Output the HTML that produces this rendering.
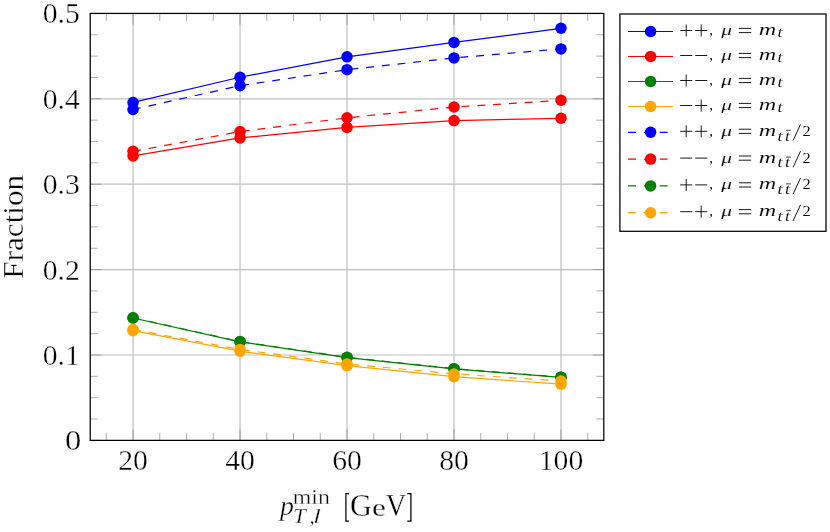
<!DOCTYPE html>
<html><head><meta charset="utf-8"><title>plot</title>
<style>
html,body{margin:0;padding:0;background:#fff;}
body{width:830px;height:532px;overflow:hidden;}
svg{display:block;will-change:transform;}
text{font-family:"Liberation Serif",serif;fill:#000;font-kerning:none;stroke:#fff;stroke-width:0.35px;}
.i{font-style:italic;}
.lg text{stroke-width:0.08px;}
</style></head><body>
<svg width="830" height="532" viewBox="0 0 830 532">
<rect x="0" y="0" width="830" height="532" fill="#fff"/>
<g stroke="#bfbfbf" stroke-width="1.18" fill="none">
<line x1="133.05" y1="13.43" x2="133.05" y2="440.38"/>
<line x1="240.04" y1="13.43" x2="240.04" y2="440.38"/>
<line x1="347.02" y1="13.43" x2="347.02" y2="440.38"/>
<line x1="454.01" y1="13.43" x2="454.01" y2="440.38"/>
<line x1="561.00" y1="13.43" x2="561.00" y2="440.38"/>
<line x1="90.25" y1="354.99" x2="603.80" y2="354.99"/>
<line x1="90.25" y1="269.60" x2="603.80" y2="269.60"/>
<line x1="90.25" y1="184.21" x2="603.80" y2="184.21"/>
<line x1="90.25" y1="98.82" x2="603.80" y2="98.82"/>
</g>
<g stroke="#808080" stroke-width="0.65" fill="none">
<line x1="106.30" y1="440.38" x2="106.30" y2="432.93"/><line x1="106.30" y1="13.43" x2="106.30" y2="20.88"/>
<line x1="133.05" y1="440.38" x2="133.05" y2="429.18"/><line x1="133.05" y1="13.43" x2="133.05" y2="24.63"/>
<line x1="159.79" y1="440.38" x2="159.79" y2="432.93"/><line x1="159.79" y1="13.43" x2="159.79" y2="20.88"/>
<line x1="186.54" y1="440.38" x2="186.54" y2="432.93"/><line x1="186.54" y1="13.43" x2="186.54" y2="20.88"/>
<line x1="213.29" y1="440.38" x2="213.29" y2="432.93"/><line x1="213.29" y1="13.43" x2="213.29" y2="20.88"/>
<line x1="240.04" y1="440.38" x2="240.04" y2="429.18"/><line x1="240.04" y1="13.43" x2="240.04" y2="24.63"/>
<line x1="266.78" y1="440.38" x2="266.78" y2="432.93"/><line x1="266.78" y1="13.43" x2="266.78" y2="20.88"/>
<line x1="293.53" y1="440.38" x2="293.53" y2="432.93"/><line x1="293.53" y1="13.43" x2="293.53" y2="20.88"/>
<line x1="320.28" y1="440.38" x2="320.28" y2="432.93"/><line x1="320.28" y1="13.43" x2="320.28" y2="20.88"/>
<line x1="347.02" y1="440.38" x2="347.02" y2="429.18"/><line x1="347.02" y1="13.43" x2="347.02" y2="24.63"/>
<line x1="373.77" y1="440.38" x2="373.77" y2="432.93"/><line x1="373.77" y1="13.43" x2="373.77" y2="20.88"/>
<line x1="400.52" y1="440.38" x2="400.52" y2="432.93"/><line x1="400.52" y1="13.43" x2="400.52" y2="20.88"/>
<line x1="427.27" y1="440.38" x2="427.27" y2="432.93"/><line x1="427.27" y1="13.43" x2="427.27" y2="20.88"/>
<line x1="454.01" y1="440.38" x2="454.01" y2="429.18"/><line x1="454.01" y1="13.43" x2="454.01" y2="24.63"/>
<line x1="480.76" y1="440.38" x2="480.76" y2="432.93"/><line x1="480.76" y1="13.43" x2="480.76" y2="20.88"/>
<line x1="507.51" y1="440.38" x2="507.51" y2="432.93"/><line x1="507.51" y1="13.43" x2="507.51" y2="20.88"/>
<line x1="534.26" y1="440.38" x2="534.26" y2="432.93"/><line x1="534.26" y1="13.43" x2="534.26" y2="20.88"/>
<line x1="561.00" y1="440.38" x2="561.00" y2="429.18"/><line x1="561.00" y1="13.43" x2="561.00" y2="24.63"/>
<line x1="587.75" y1="440.38" x2="587.75" y2="432.93"/><line x1="587.75" y1="13.43" x2="587.75" y2="20.88"/>
<line x1="90.25" y1="440.38" x2="101.45" y2="440.38"/><line x1="603.80" y1="440.38" x2="592.60" y2="440.38"/>
<line x1="90.25" y1="419.03" x2="97.70" y2="419.03"/><line x1="603.80" y1="419.03" x2="596.35" y2="419.03"/>
<line x1="90.25" y1="397.69" x2="97.70" y2="397.69"/><line x1="603.80" y1="397.69" x2="596.35" y2="397.69"/>
<line x1="90.25" y1="376.34" x2="97.70" y2="376.34"/><line x1="603.80" y1="376.34" x2="596.35" y2="376.34"/>
<line x1="90.25" y1="354.99" x2="101.45" y2="354.99"/><line x1="603.80" y1="354.99" x2="592.60" y2="354.99"/>
<line x1="90.25" y1="333.64" x2="97.70" y2="333.64"/><line x1="603.80" y1="333.64" x2="596.35" y2="333.64"/>
<line x1="90.25" y1="312.29" x2="97.70" y2="312.29"/><line x1="603.80" y1="312.29" x2="596.35" y2="312.29"/>
<line x1="90.25" y1="290.95" x2="97.70" y2="290.95"/><line x1="603.80" y1="290.95" x2="596.35" y2="290.95"/>
<line x1="90.25" y1="269.60" x2="101.45" y2="269.60"/><line x1="603.80" y1="269.60" x2="592.60" y2="269.60"/>
<line x1="90.25" y1="248.25" x2="97.70" y2="248.25"/><line x1="603.80" y1="248.25" x2="596.35" y2="248.25"/>
<line x1="90.25" y1="226.91" x2="97.70" y2="226.91"/><line x1="603.80" y1="226.91" x2="596.35" y2="226.91"/>
<line x1="90.25" y1="205.56" x2="97.70" y2="205.56"/><line x1="603.80" y1="205.56" x2="596.35" y2="205.56"/>
<line x1="90.25" y1="184.21" x2="101.45" y2="184.21"/><line x1="603.80" y1="184.21" x2="592.60" y2="184.21"/>
<line x1="90.25" y1="162.86" x2="97.70" y2="162.86"/><line x1="603.80" y1="162.86" x2="596.35" y2="162.86"/>
<line x1="90.25" y1="141.51" x2="97.70" y2="141.51"/><line x1="603.80" y1="141.51" x2="596.35" y2="141.51"/>
<line x1="90.25" y1="120.17" x2="97.70" y2="120.17"/><line x1="603.80" y1="120.17" x2="596.35" y2="120.17"/>
<line x1="90.25" y1="98.82" x2="101.45" y2="98.82"/><line x1="603.80" y1="98.82" x2="592.60" y2="98.82"/>
<line x1="90.25" y1="77.47" x2="97.70" y2="77.47"/><line x1="603.80" y1="77.47" x2="596.35" y2="77.47"/>
<line x1="90.25" y1="56.12" x2="97.70" y2="56.12"/><line x1="603.80" y1="56.12" x2="596.35" y2="56.12"/>
<line x1="90.25" y1="34.78" x2="97.70" y2="34.78"/><line x1="603.80" y1="34.78" x2="596.35" y2="34.78"/>
<line x1="90.25" y1="13.43" x2="101.45" y2="13.43"/><line x1="603.80" y1="13.43" x2="592.60" y2="13.43"/>
</g>
<rect x="90.25" y="13.43" width="513.55" height="426.95" fill="none" stroke="#000" stroke-width="1.25"/>
<polyline points="133.05,102.45 240.04,77.25 347.02,56.85 454.01,42.40 561.00,28.30" fill="none" stroke="#0000ff" stroke-width="1.20"/>
<g fill="#0000ff"><circle cx="133.05" cy="102.45" r="5.75"/><circle cx="240.04" cy="77.25" r="5.75"/><circle cx="347.02" cy="56.85" r="5.75"/><circle cx="454.01" cy="42.40" r="5.75"/><circle cx="561.00" cy="28.30" r="5.75"/></g>
<polyline points="133.05,155.90 240.04,137.90 347.02,127.40 454.01,120.60 561.00,118.30" fill="none" stroke="#ff0000" stroke-width="1.20"/>
<g fill="#ff0000"><circle cx="133.05" cy="155.90" r="5.75"/><circle cx="240.04" cy="137.90" r="5.75"/><circle cx="347.02" cy="127.40" r="5.75"/><circle cx="454.01" cy="120.60" r="5.75"/><circle cx="561.00" cy="118.30" r="5.75"/></g>
<polyline points="133.05,318.00 240.04,341.80 347.02,357.60 454.01,368.90 561.00,377.35" fill="none" stroke="#008000" stroke-width="1.20"/>
<g fill="#008000"><circle cx="133.05" cy="318.00" r="5.75"/><circle cx="240.04" cy="341.80" r="5.75"/><circle cx="347.02" cy="357.60" r="5.75"/><circle cx="454.01" cy="368.90" r="5.75"/><circle cx="561.00" cy="377.35" r="5.75"/></g>
<polyline points="133.05,330.70 240.04,351.20 347.02,365.70 454.01,376.70 561.00,384.20" fill="none" stroke="#ffa500" stroke-width="1.20"/>
<g fill="#ffa500"><circle cx="133.05" cy="330.70" r="5.75"/><circle cx="240.04" cy="351.20" r="5.75"/><circle cx="347.02" cy="365.70" r="5.75"/><circle cx="454.01" cy="376.70" r="5.75"/><circle cx="561.00" cy="384.20" r="5.75"/></g>
<polyline points="133.05,109.50 240.04,85.65 347.02,69.65 454.01,57.90 561.00,48.90" fill="none" stroke="#0000ff" stroke-width="1.20" stroke-dasharray="7.9 7.9"/>
<g fill="#0000ff"><circle cx="133.05" cy="109.50" r="5.75"/><circle cx="240.04" cy="85.65" r="5.75"/><circle cx="347.02" cy="69.65" r="5.75"/><circle cx="454.01" cy="57.90" r="5.75"/><circle cx="561.00" cy="48.90" r="5.75"/></g>
<polyline points="133.05,151.35 240.04,131.55 347.02,117.80 454.01,107.00 561.00,100.30" fill="none" stroke="#ff0000" stroke-width="1.20" stroke-dasharray="7.9 7.9"/>
<g fill="#ff0000"><circle cx="133.05" cy="151.35" r="5.75"/><circle cx="240.04" cy="131.55" r="5.75"/><circle cx="347.02" cy="117.80" r="5.75"/><circle cx="454.01" cy="107.00" r="5.75"/><circle cx="561.00" cy="100.30" r="5.75"/></g>
<polyline points="133.05,317.80 240.04,341.60 347.02,357.30 454.01,368.70 561.00,377.15" fill="none" stroke="#008000" stroke-width="1.20" stroke-dasharray="7.9 7.9"/>
<g fill="#008000"><circle cx="133.05" cy="317.80" r="5.75"/><circle cx="240.04" cy="341.60" r="5.75"/><circle cx="347.02" cy="357.30" r="5.75"/><circle cx="454.01" cy="368.70" r="5.75"/><circle cx="561.00" cy="377.15" r="5.75"/></g>
<polyline points="133.05,329.50 240.04,349.40 347.02,363.90 454.01,373.95 561.00,380.95" fill="none" stroke="#ffa500" stroke-width="1.20" stroke-dasharray="7.9 7.9"/>
<g fill="#ffa500"><circle cx="133.05" cy="329.50" r="5.75"/><circle cx="240.04" cy="349.40" r="5.75"/><circle cx="347.02" cy="363.90" r="5.75"/><circle cx="454.01" cy="373.95" r="5.75"/><circle cx="561.00" cy="380.95" r="5.75"/></g>
<rect x="619.90" y="14.00" width="206.10" height="217.30" fill="#fff" stroke="#000" stroke-width="1.25"/>
<line x1="628.1" y1="31.50" x2="673.0" y2="31.50" stroke="#0000ff" stroke-width="1.20"/><circle cx="650.6" cy="31.50" r="5.75" fill="#0000ff"/>
<g class="lg"><g stroke="#000" stroke-width="0.90" fill="none"><line x1="680.15" y1="30.50" x2="692.25" y2="30.50"/><line x1="686.20" y1="24.50" x2="686.20" y2="36.50"/><line x1="695.15" y1="30.50" x2="707.25" y2="30.50"/><line x1="701.20" y1="24.50" x2="701.20" y2="36.50"/><line x1="738.8" y1="28.40" x2="751.2" y2="28.40"/><line x1="738.8" y1="32.60" x2="751.2" y2="32.60"/></g><text x="709.2" y="35.00" font-size="15">,</text><text class="i" x="721.2" y="35.00" font-size="14" textLength="10.8" lengthAdjust="spacingAndGlyphs">μ</text><text class="i" x="758.7" y="35.00" font-size="16.4" textLength="17.5" lengthAdjust="spacingAndGlyphs">m</text><text class="i" x="777.6" y="37.10" font-size="15.5" textLength="5" lengthAdjust="spacingAndGlyphs">t</text>
</g>
<line x1="628.1" y1="56.50" x2="673.0" y2="56.50" stroke="#ff0000" stroke-width="1.20"/><circle cx="650.6" cy="56.50" r="5.75" fill="#ff0000"/>
<g class="lg"><g stroke="#000" stroke-width="0.90" fill="none"><line x1="680.15" y1="55.50" x2="692.25" y2="55.50"/><line x1="695.15" y1="55.50" x2="707.25" y2="55.50"/><line x1="738.8" y1="53.40" x2="751.2" y2="53.40"/><line x1="738.8" y1="57.60" x2="751.2" y2="57.60"/></g><text x="709.2" y="60.00" font-size="15">,</text><text class="i" x="721.2" y="60.00" font-size="14" textLength="10.8" lengthAdjust="spacingAndGlyphs">μ</text><text class="i" x="758.7" y="60.00" font-size="16.4" textLength="17.5" lengthAdjust="spacingAndGlyphs">m</text><text class="i" x="777.6" y="62.10" font-size="15.5" textLength="5" lengthAdjust="spacingAndGlyphs">t</text>
</g>
<line x1="628.1" y1="81.50" x2="673.0" y2="81.50" stroke="#008000" stroke-width="1.20"/><circle cx="650.6" cy="81.50" r="5.75" fill="#008000"/>
<g class="lg"><g stroke="#000" stroke-width="0.90" fill="none"><line x1="680.15" y1="80.50" x2="692.25" y2="80.50"/><line x1="686.20" y1="74.50" x2="686.20" y2="86.50"/><line x1="695.15" y1="80.50" x2="707.25" y2="80.50"/><line x1="738.8" y1="78.40" x2="751.2" y2="78.40"/><line x1="738.8" y1="82.60" x2="751.2" y2="82.60"/></g><text x="709.2" y="85.00" font-size="15">,</text><text class="i" x="721.2" y="85.00" font-size="14" textLength="10.8" lengthAdjust="spacingAndGlyphs">μ</text><text class="i" x="758.7" y="85.00" font-size="16.4" textLength="17.5" lengthAdjust="spacingAndGlyphs">m</text><text class="i" x="777.6" y="87.10" font-size="15.5" textLength="5" lengthAdjust="spacingAndGlyphs">t</text>
</g>
<line x1="628.1" y1="106.50" x2="673.0" y2="106.50" stroke="#ffa500" stroke-width="1.20"/><circle cx="650.6" cy="106.50" r="5.75" fill="#ffa500"/>
<g class="lg"><g stroke="#000" stroke-width="0.90" fill="none"><line x1="680.15" y1="105.50" x2="692.25" y2="105.50"/><line x1="695.15" y1="105.50" x2="707.25" y2="105.50"/><line x1="701.20" y1="99.50" x2="701.20" y2="111.50"/><line x1="738.8" y1="103.40" x2="751.2" y2="103.40"/><line x1="738.8" y1="107.60" x2="751.2" y2="107.60"/></g><text x="709.2" y="110.00" font-size="15">,</text><text class="i" x="721.2" y="110.00" font-size="14" textLength="10.8" lengthAdjust="spacingAndGlyphs">μ</text><text class="i" x="758.7" y="110.00" font-size="16.4" textLength="17.5" lengthAdjust="spacingAndGlyphs">m</text><text class="i" x="777.6" y="112.10" font-size="15.5" textLength="5" lengthAdjust="spacingAndGlyphs">t</text>
</g>
<line x1="628.1" y1="132.30" x2="673.0" y2="132.30" stroke="#0000ff" stroke-width="1.20" stroke-dasharray="7.9 7.9"/><circle cx="650.6" cy="132.30" r="5.75" fill="#0000ff"/>
<g class="lg"><g stroke="#000" stroke-width="0.90" fill="none"><line x1="680.15" y1="131.30" x2="692.25" y2="131.30"/><line x1="686.20" y1="125.30" x2="686.20" y2="137.30"/><line x1="695.15" y1="131.30" x2="707.25" y2="131.30"/><line x1="701.20" y1="125.30" x2="701.20" y2="137.30"/><line x1="738.8" y1="129.20" x2="751.2" y2="129.20"/><line x1="738.8" y1="133.40" x2="751.2" y2="133.40"/><line x1="793.1" y1="140.50" x2="800.5" y2="124.40"/><line x1="786.0" y1="130.30" x2="790.8" y2="130.30" stroke-width="0.75"/></g><text x="709.2" y="135.80" font-size="15">,</text><text class="i" x="721.2" y="135.80" font-size="14" textLength="10.8" lengthAdjust="spacingAndGlyphs">μ</text><text class="i" x="758.7" y="135.80" font-size="16.4" textLength="17.5" lengthAdjust="spacingAndGlyphs">m</text><text class="i" x="777.6" y="140.50" font-size="15.5" textLength="5" lengthAdjust="spacingAndGlyphs">t</text><text class="i" x="785.1" y="140.50" font-size="15.5" textLength="5" lengthAdjust="spacingAndGlyphs">t</text><text x="802.4" y="135.80" font-size="14.6" textLength="8.2" lengthAdjust="spacingAndGlyphs">2</text>
</g>
<line x1="628.1" y1="159.10" x2="673.0" y2="159.10" stroke="#ff0000" stroke-width="1.20" stroke-dasharray="7.9 7.9"/><circle cx="650.6" cy="159.10" r="5.75" fill="#ff0000"/>
<g class="lg"><g stroke="#000" stroke-width="0.90" fill="none"><line x1="680.15" y1="158.10" x2="692.25" y2="158.10"/><line x1="695.15" y1="158.10" x2="707.25" y2="158.10"/><line x1="738.8" y1="156.00" x2="751.2" y2="156.00"/><line x1="738.8" y1="160.20" x2="751.2" y2="160.20"/><line x1="793.1" y1="167.30" x2="800.5" y2="151.20"/><line x1="786.0" y1="157.10" x2="790.8" y2="157.10" stroke-width="0.75"/></g><text x="709.2" y="162.60" font-size="15">,</text><text class="i" x="721.2" y="162.60" font-size="14" textLength="10.8" lengthAdjust="spacingAndGlyphs">μ</text><text class="i" x="758.7" y="162.60" font-size="16.4" textLength="17.5" lengthAdjust="spacingAndGlyphs">m</text><text class="i" x="777.6" y="167.30" font-size="15.5" textLength="5" lengthAdjust="spacingAndGlyphs">t</text><text class="i" x="785.1" y="167.30" font-size="15.5" textLength="5" lengthAdjust="spacingAndGlyphs">t</text><text x="802.4" y="162.60" font-size="14.6" textLength="8.2" lengthAdjust="spacingAndGlyphs">2</text>
</g>
<line x1="628.1" y1="185.90" x2="673.0" y2="185.90" stroke="#008000" stroke-width="1.20" stroke-dasharray="7.9 7.9"/><circle cx="650.6" cy="185.90" r="5.75" fill="#008000"/>
<g class="lg"><g stroke="#000" stroke-width="0.90" fill="none"><line x1="680.15" y1="184.90" x2="692.25" y2="184.90"/><line x1="686.20" y1="178.90" x2="686.20" y2="190.90"/><line x1="695.15" y1="184.90" x2="707.25" y2="184.90"/><line x1="738.8" y1="182.80" x2="751.2" y2="182.80"/><line x1="738.8" y1="187.00" x2="751.2" y2="187.00"/><line x1="793.1" y1="194.10" x2="800.5" y2="178.00"/><line x1="786.0" y1="183.90" x2="790.8" y2="183.90" stroke-width="0.75"/></g><text x="709.2" y="189.40" font-size="15">,</text><text class="i" x="721.2" y="189.40" font-size="14" textLength="10.8" lengthAdjust="spacingAndGlyphs">μ</text><text class="i" x="758.7" y="189.40" font-size="16.4" textLength="17.5" lengthAdjust="spacingAndGlyphs">m</text><text class="i" x="777.6" y="194.10" font-size="15.5" textLength="5" lengthAdjust="spacingAndGlyphs">t</text><text class="i" x="785.1" y="194.10" font-size="15.5" textLength="5" lengthAdjust="spacingAndGlyphs">t</text><text x="802.4" y="189.40" font-size="14.6" textLength="8.2" lengthAdjust="spacingAndGlyphs">2</text>
</g>
<line x1="628.1" y1="212.70" x2="673.0" y2="212.70" stroke="#ffa500" stroke-width="1.20" stroke-dasharray="7.9 7.9"/><circle cx="650.6" cy="212.70" r="5.75" fill="#ffa500"/>
<g class="lg"><g stroke="#000" stroke-width="0.90" fill="none"><line x1="680.15" y1="211.70" x2="692.25" y2="211.70"/><line x1="695.15" y1="211.70" x2="707.25" y2="211.70"/><line x1="701.20" y1="205.70" x2="701.20" y2="217.70"/><line x1="738.8" y1="209.60" x2="751.2" y2="209.60"/><line x1="738.8" y1="213.80" x2="751.2" y2="213.80"/><line x1="793.1" y1="220.90" x2="800.5" y2="204.80"/><line x1="786.0" y1="210.70" x2="790.8" y2="210.70" stroke-width="0.75"/></g><text x="709.2" y="216.20" font-size="15">,</text><text class="i" x="721.2" y="216.20" font-size="14" textLength="10.8" lengthAdjust="spacingAndGlyphs">μ</text><text class="i" x="758.7" y="216.20" font-size="16.4" textLength="17.5" lengthAdjust="spacingAndGlyphs">m</text><text class="i" x="777.6" y="220.90" font-size="15.5" textLength="5" lengthAdjust="spacingAndGlyphs">t</text><text class="i" x="785.1" y="220.90" font-size="15.5" textLength="5" lengthAdjust="spacingAndGlyphs">t</text><text x="802.4" y="216.20" font-size="14.6" textLength="8.2" lengthAdjust="spacingAndGlyphs">2</text>
</g>
<text transform="translate(133.05,470.1) scale(1,1.012)" font-size="29.7" text-anchor="middle">20</text>
<text transform="translate(240.04,470.1) scale(1,1.012)" font-size="29.7" text-anchor="middle">40</text>
<text transform="translate(347.02,470.1) scale(1,1.012)" font-size="29.7" text-anchor="middle">60</text>
<text transform="translate(454.01,470.1) scale(1,1.012)" font-size="29.7" text-anchor="middle">80</text>
<text transform="translate(561.00,470.1) scale(1,1.012)" font-size="29.7" text-anchor="middle">100</text>
<text transform="translate(79.8,364.99) scale(1,1.012)" font-size="29.7" text-anchor="end">0.1</text>
<text transform="translate(79.8,279.60) scale(1,1.012)" font-size="29.7" text-anchor="end">0.2</text>
<text transform="translate(79.8,194.21) scale(1,1.012)" font-size="29.7" text-anchor="end">0.3</text>
<text transform="translate(79.8,108.82) scale(1,1.012)" font-size="29.7" text-anchor="end">0.4</text>
<text transform="translate(79.8,23.43) scale(1,1.012)" font-size="29.7" text-anchor="end">0.5</text>
<text transform="translate(65.06,450.38) scale(1.0963,1.0100)" font-size="29.7">0</text>
<text transform="translate(23.4,278.70) rotate(-90) scale(1.0505,1)" font-size="29.7">Fraction</text>
<text class="i" transform="translate(279.93,514.70) scale(0.9368,0.9075)" font-size="29.7">p</text>
<text transform="translate(292.70,503.90) scale(1.1009,0.9466)" font-size="21.7">min</text>
<text class="i" transform="translate(292.89,523.00) scale(1.1268,0.9834)" font-size="20.5">T</text>
<text transform="translate(309.68,523.00) scale(0.9171,1.0416)" font-size="20.5">,</text>
<text class="i" transform="translate(312.98,523.30) scale(1.3962,0.9843)" font-size="20.5">l</text>
<text transform="translate(350.06,515.50) scale(1.0206,1.0679)" font-size="29.7">G</text>
<text transform="translate(371.88,515.50) scale(1.0553,0.8789)" font-size="29.7">e</text>
<text transform="translate(385.78,515.50) scale(0.9528,1.0439)" font-size="29.7">V</text>
<g stroke="#000" fill="none"><path d="M349.1 493.55H345.9V521.15H349.1" stroke-width="1.25"/><path d="M407.3 493.55H410.9V521.15H407.3" stroke-width="1.25"/></g>
</svg>
</body></html>
